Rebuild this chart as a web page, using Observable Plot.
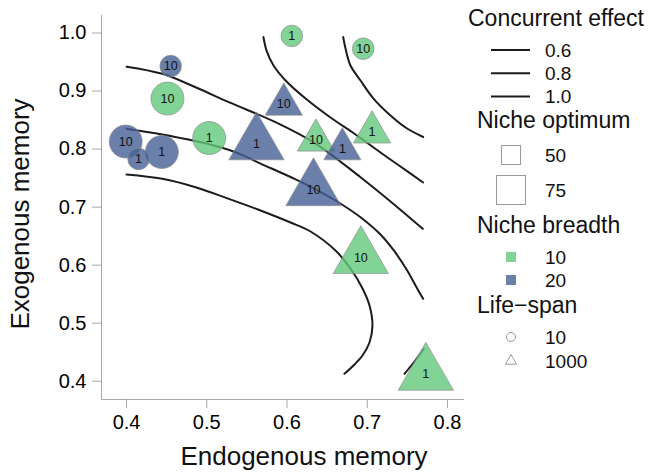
<!DOCTYPE html>
<html>
<head>
<meta charset="utf-8">
<script src="https://cdn.jsdelivr.net/npm/d3@7"></script>
<script src="https://cdn.jsdelivr.net/npm/@observablehq/plot@0.6"></script>
<style>
  html, body { margin: 0; padding: 0; background: #fff; }
  #chart { position: relative; width: 649px; height: 473px; font-family: "Liberation Sans", Arial, Helvetica, sans-serif; }
  #chart svg { position: absolute; left: 0; top: 0; }
</style>
</head>
<body>
<div id="chart"></div>
<script>
// ---------- data ----------
const endogenous = [0.455, 0.451, 0.399, 0.415, 0.444, 0.503, 0.606, 0.695,
                    0.562, 0.596, 0.636, 0.669, 0.706, 0.633, 0.692, 0.773];
const exogenous  = [0.943, 0.887, 0.813, 0.783, 0.795, 0.819, 0.995, 0.973,
                    0.809, 0.877, 0.815, 0.800, 0.829, 0.730, 0.613, 0.412];
const nicheBreadth = [20, 10, 20, 20, 20, 10, 10, 10,
                      20, 20, 10, 20, 10, 20, 10, 10];
const nicheOptimum = [50, 75, 75, 50, 75, 75, 50, 50,
                      75, 50, 50, 50, 50, 75, 75, 75];
const lifeSpan = [10, 10, 10, 10, 10, 10, 10, 10,
                  1000, 1000, 1000, 1000, 1000, 1000, 1000, 1000];
const pointLabels = ["10", "10", "10", "1", "1", "1", "1", "10",
                     "1", "10", "10", "1", "1", "10", "10", "1"];

// contour curves (endogenous, exogenous)
const contourA_x = [0.400, 0.4445, 0.486, 0.5275, 0.567, 0.6044, 0.6293, 0.6604, 0.6791, 0.6941, 0.7028, 0.7065, 0.7028, 0.6941, 0.6841, 0.6716];
const contourA_y = [0.7562, 0.7488, 0.7343, 0.7143, 0.6942, 0.6735, 0.658, 0.6253, 0.5942, 0.5598, 0.5305, 0.496, 0.4667, 0.4443, 0.4288, 0.4128];
const contourB_x = [0.400, 0.4445, 0.5006, 0.5358, 0.567, 0.6044, 0.6293, 0.6604, 0.6916, 0.7165, 0.7331, 0.7498, 0.7622, 0.7697];
const contourB_y = [0.835, 0.8251, 0.8091, 0.7946, 0.7751, 0.7519, 0.7355, 0.7114, 0.6826, 0.6528, 0.6253, 0.5908, 0.5598, 0.542];
const contourB2_x = [0.7705, 0.7589, 0.7464];
const contourB2_y = [0.4559, 0.434, 0.4128];
const contourC_x = [0.400, 0.4445, 0.486, 0.5275, 0.5857, 0.6364, 0.6916, 0.729, 0.7692];
const contourC_y = [0.942, 0.9297, 0.9066, 0.8808, 0.8463, 0.8087, 0.7515, 0.7097, 0.6626];
const contourD_x = [0.5706, 0.5745, 0.5832, 0.5982, 0.6231, 0.6542, 0.6854, 0.7165, 0.7414, 0.7697];
const contourD_y = [0.9931, 0.9698, 0.944, 0.9182, 0.8871, 0.8544, 0.8251, 0.7941, 0.770, 0.7424];
const contourE_x = [0.670, 0.6729, 0.6791, 0.6916, 0.7078, 0.729, 0.7477, 0.7697];
const contourE_y = [0.9931, 0.9733, 0.944, 0.9182, 0.8871, 0.8579, 0.8372, 0.8208];

const xTicks = [0.4, 0.5, 0.6, 0.7, 0.8];
const yTicks = [0.4, 0.5, 0.6, 0.7, 0.8, 0.9, 1.0];
const xTitle = "Endogenous memory";
const yTitle = "Exogenous memory";
const concurrentLevels = ["0.6", "0.8", "1.0"];
const optimumLevels = [50, 75];
const breadthLevels = [10, 20];
const lifespanLevels = [10, 1000];

// ---------- styles ----------
const FONT = '"Liberation Sans", Arial, Helvetica, sans-serif';
const AXIS_GRAY = "#a8a8a8";
const LINE_COLOR = "#1c1c1c";
const breadthColors = ["#62c87c", "#456095"];      // drawn at fill-opacity .8
const breadthLegendColors = ["#81d396", "#6a80aa"];
const symbolNames = ["circle", "triangle"];
const sizeStyle = { circle: { 50: 10.8, 75: 16.5 }, triangle: { 50: 13.8, 75: 20.5 } };

// ---------- tables ----------
const points = endogenous.map((x, i) => ({
  x, y: exogenous[i], breadth: nicheBreadth[i], optimum: nicheOptimum[i],
  life: lifeSpan[i], label: pointLabels[i]
}));
const contourSets = [
  ["A", contourA_x, contourA_y], ["B", contourB_x, contourB_y], ["B2", contourB2_x, contourB2_y],
  ["C", contourC_x, contourC_y], ["D", contourD_x, contourD_y], ["E", contourE_x, contourE_y]
];
const contours = contourSets.flatMap(([id, xs, ys]) => xs.map((x, i) => ({ id, x, y: ys[i] })));

const xDomain = [0.3688, 0.8212];
const yDomain = [0.3685, 1.0302];

const chart = Plot.plot({
  width: 649,
  height: 473,
  marginLeft: 101,
  marginRight: 185,
  marginTop: 15,
  marginBottom: 74,
  style: { fontFamily: FONT, background: "white", color: "black", overflow: "visible" },
  x: { domain: xDomain },
  y: { domain: yDomain },
  symbol: { domain: lifespanLevels, range: symbolNames },
  color: { domain: breadthLevels, range: breadthColors },
  r: { type: "identity" },
  marks: [
    Plot.ruleX([xDomain[0]], { stroke: AXIS_GRAY, strokeWidth: 1 }),
    Plot.ruleY([yDomain[0]], { stroke: AXIS_GRAY, strokeWidth: 1 }),
    Plot.axisX({ ticks: xTicks, tickSize: 9, tickPadding: 6, tickFormat: d3.format(".1f"),
                 fontSize: 20, stroke: AXIS_GRAY, label: null }),
    Plot.axisY({ ticks: yTicks, tickSize: 9, tickPadding: 6, tickFormat: d3.format(".1f"),
                 fontSize: 20, stroke: AXIS_GRAY, label: null }),
    Plot.line(contours, { x: "x", y: "y", z: "id", stroke: LINE_COLOR, strokeWidth: 2, curve: "catmull-rom" }),
    Plot.dot(points, {
      x: "x", y: "y", symbol: "life", fill: "breadth", fillOpacity: 0.8,
      r: d => sizeStyle[symbolNames[lifespanLevels.indexOf(d.life)]][d.optimum],
      stroke: "#8c8c8c", strokeWidth: 0.7
    }),
    Plot.text(points, { x: "x", y: "y", text: "label", fontSize: 12.5, fill: "#111" })
  ]
});
document.getElementById("chart").appendChild(chart);

// ---------- axis titles + legend (overlay) ----------
const leg = d3.select("#chart").append("svg")
  .attr("width", 649).attr("height", 473)
  .style("pointer-events", "none")
  .attr("font-family", FONT);

leg.append("text").attr("x", 304).attr("y", 465).attr("text-anchor", "middle")
  .attr("font-size", 26).attr("fill", "#111").text(xTitle);
leg.append("text").attr("transform", "translate(29,214) rotate(-90)").attr("text-anchor", "middle")
  .attr("font-size", 26).attr("fill", "#111").text(yTitle);

const titleSize = 23, itemSize = 19, symX = 511, labX = 545;
function title(text, x, baseline) {
  leg.append("text").attr("x", x).attr("y", baseline).attr("font-size", titleSize).attr("fill", "#111").text(text);
}
function itemLabel(text, cy) {
  leg.append("text").attr("x", labX).attr("y", cy).attr("dy", "0.35em").attr("font-size", itemSize).attr("fill", "#111").text(text);
}

title("Concurrent effect", 468, 26);
concurrentLevels.forEach((lv, i) => {
  const cy = 50 + i * 23.3;
  leg.append("line").attr("x1", 491).attr("x2", 530).attr("y1", cy).attr("y2", cy)
    .attr("stroke", LINE_COLOR).attr("stroke-width", 2);
  itemLabel(lv, cy);
});

title("Niche optimum", 477, 128);
const sqSizes = [19, 29];
const sqY = [155, 190];
optimumLevels.forEach((lv, i) => {
  const s = sqSizes[i];
  leg.append("rect").attr("x", symX - s / 2).attr("y", sqY[i] - s / 2).attr("width", s).attr("height", s)
    .attr("fill", "none").attr("stroke", "#9a9a9a").attr("stroke-width", 1);
  itemLabel(String(lv), sqY[i]);
});

title("Niche breadth", 477, 233);
breadthLevels.forEach((lv, i) => {
  const cy = 257 + i * 23;
  leg.append("rect").attr("x", symX - 5).attr("y", cy - 5).attr("width", 10).attr("height", 10)
    .attr("fill", breadthLegendColors[i]);
  itemLabel(String(lv), cy);
});

title("Life\u2212span", 477, 313);
lifespanLevels.forEach((lv, i) => {
  const cy = 337 + i * 24;
  const sym = i === 0 ? d3.symbolCircle : d3.symbolTriangle2;
  const size = i === 0 ? Math.PI * 4.5 * 4.5 : Math.PI * 5.3 * 5.3;
  leg.append("path").attr("transform", `translate(${symX},${cy})`)
    .attr("d", d3.symbol(sym, size)()).attr("fill", "none").attr("stroke", "#9a9a9a").attr("stroke-width", 1);
  itemLabel(String(lv), cy);
});
</script>
</body>
</html>
